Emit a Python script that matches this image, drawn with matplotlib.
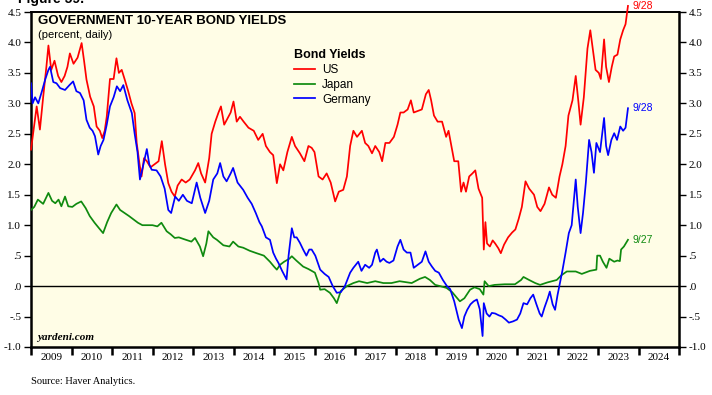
import numpy as np
import matplotlib
matplotlib.use("Agg")
import matplotlib.pyplot as plt

# US 10-year yield (decimal year, percent)
us_t = [2009.00, 2009.07, 2009.14, 2009.22, 2009.30, 2009.38, 2009.43, 2009.50, 2009.58, 2009.67,
        2009.75, 2009.83, 2009.90, 2009.96, 2010.05, 2010.15, 2010.25, 2010.31, 2010.37, 2010.46,
        2010.55, 2010.62, 2010.70, 2010.76, 2010.82, 2010.87, 2010.95, 2011.04, 2011.11, 2011.17,
        2011.24, 2011.31, 2011.40, 2011.48, 2011.56, 2011.61, 2011.68, 2011.73, 2011.79, 2011.86,
        2011.95, 2012.05, 2012.15, 2012.23, 2012.31, 2012.39, 2012.47, 2012.55, 2012.62, 2012.72,
        2012.82, 2012.92, 2013.05, 2013.13, 2013.20, 2013.30, 2013.40, 2013.46, 2013.55, 2013.63,
        2013.69, 2013.77, 2013.85, 2013.93, 2014.00, 2014.08, 2014.16, 2014.25, 2014.37, 2014.50,
        2014.61, 2014.72, 2014.80, 2014.90, 2014.98, 2015.07, 2015.15, 2015.23, 2015.33, 2015.44,
        2015.52, 2015.64, 2015.75, 2015.85, 2015.93, 2016.00, 2016.10, 2016.20, 2016.30, 2016.40,
        2016.51, 2016.60, 2016.71, 2016.80, 2016.88, 2016.96, 2017.05, 2017.17, 2017.25, 2017.33,
        2017.42, 2017.50, 2017.60, 2017.67, 2017.75, 2017.85, 2017.96, 2018.05, 2018.12, 2018.20,
        2018.30, 2018.38, 2018.45, 2018.57, 2018.65, 2018.75, 2018.82, 2018.88, 2018.95, 2019.04,
        2019.15, 2019.25, 2019.31, 2019.38, 2019.45, 2019.55, 2019.62, 2019.68, 2019.74, 2019.82,
        2019.90, 2019.97, 2020.05, 2020.14, 2020.18, 2020.22, 2020.26, 2020.33, 2020.40, 2020.46,
        2020.54, 2020.60, 2020.68, 2020.78, 2020.88, 2020.96, 2021.04, 2021.12, 2021.21, 2021.30,
        2021.42, 2021.50, 2021.58, 2021.68, 2021.79, 2021.87, 2021.96, 2022.05, 2022.12, 2022.20,
        2022.27, 2022.37, 2022.45, 2022.52, 2022.57, 2022.65, 2022.74, 2022.81, 2022.87, 2022.94,
        2023.02, 2023.07, 2023.15, 2023.20, 2023.27, 2023.34, 2023.40, 2023.48, 2023.55, 2023.62,
        2023.68, 2023.74]
us_v = [2.24, 2.60, 2.95, 2.57, 3.10, 3.60, 3.95, 3.55, 3.70, 3.45,
        3.35, 3.45, 3.60, 3.82, 3.65, 3.75, 3.99, 3.70, 3.39, 3.11,
        2.95, 2.62, 2.55, 2.43, 2.55, 2.78, 3.40, 3.40, 3.74, 3.50,
        3.55, 3.40, 3.20, 3.00, 2.84, 2.35, 2.00, 1.80, 2.10, 2.05,
        1.95, 2.00, 2.05, 2.38, 2.00, 1.69, 1.55, 1.47, 1.65, 1.75,
        1.70, 1.75, 1.90, 2.02, 1.85, 1.70, 2.10, 2.50, 2.70, 2.85,
        2.95, 2.65, 2.75, 2.85, 3.03, 2.70, 2.78, 2.70, 2.60, 2.55,
        2.40, 2.50, 2.30, 2.20, 2.15, 1.69, 2.00, 1.90, 2.20, 2.45,
        2.30, 2.18, 2.05, 2.30, 2.27, 2.20, 1.80, 1.75, 1.85, 1.70,
        1.39, 1.55, 1.58, 1.80, 2.30, 2.55, 2.45, 2.55, 2.35, 2.30,
        2.18, 2.30, 2.20, 2.05, 2.35, 2.35, 2.45, 2.65, 2.85, 2.85,
        2.90, 3.05, 2.85, 2.88, 2.90, 3.15, 3.22, 3.05, 2.80, 2.70,
        2.70, 2.45, 2.55, 2.30, 2.05, 2.05, 1.55, 1.70, 1.55, 1.80,
        1.85, 1.90, 1.60, 1.45, 0.60, 1.05, 0.70, 0.65, 0.75, 0.70,
        0.62, 0.54, 0.68, 0.80, 0.88, 0.93, 1.10, 1.30, 1.72, 1.60,
        1.50, 1.30, 1.23, 1.35, 1.62, 1.50, 1.45, 1.80, 2.00, 2.30,
        2.80, 3.05, 3.45, 3.00, 2.65, 3.10, 3.90, 4.20, 3.90, 3.55,
        3.50, 3.40, 4.05, 3.60, 3.35, 3.60, 3.77, 3.80, 4.05, 4.20,
        4.30, 4.60]

# Japan 10-year yield
jp_t = [2009.00, 2009.08, 2009.17, 2009.30, 2009.43, 2009.52, 2009.60, 2009.68, 2009.75, 2009.84,
        2009.92, 2010.02, 2010.12, 2010.24, 2010.35, 2010.45, 2010.57, 2010.68, 2010.78, 2010.88,
        2010.98, 2011.11, 2011.20, 2011.31, 2011.42, 2011.52, 2011.64, 2011.75, 2011.88, 2012.00,
        2012.12, 2012.22, 2012.35, 2012.45, 2012.55, 2012.65, 2012.78, 2012.96, 2013.05, 2013.17,
        2013.25, 2013.33, 2013.38, 2013.50, 2013.59, 2013.75, 2013.90, 2013.99, 2014.12, 2014.24,
        2014.40, 2014.57, 2014.75, 2014.90, 2015.00, 2015.07, 2015.15, 2015.25, 2015.38, 2015.44,
        2015.55, 2015.72, 2015.85, 2016.01, 2016.10, 2016.14, 2016.25, 2016.38, 2016.48, 2016.55,
        2016.65, 2016.80, 2016.96, 2017.10, 2017.30, 2017.50, 2017.70, 2017.90, 2018.10, 2018.40,
        2018.60, 2018.73, 2018.85, 2018.98, 2019.10, 2019.26, 2019.40, 2019.50, 2019.59, 2019.70,
        2019.84, 2019.95, 2020.08, 2020.17, 2020.20, 2020.30, 2020.45, 2020.70, 2020.95, 2021.10,
        2021.16, 2021.30, 2021.45, 2021.57, 2021.75, 2021.98, 2022.10, 2022.23, 2022.45, 2022.60,
        2022.80, 2022.96, 2022.98, 2023.05, 2023.12, 2023.21, 2023.28, 2023.40, 2023.48, 2023.54,
        2023.57, 2023.64, 2023.74]
jp_v = [1.25, 1.30, 1.42, 1.35, 1.53, 1.40, 1.36, 1.42, 1.31, 1.47,
        1.31, 1.30, 1.35, 1.39, 1.28, 1.15, 1.04, 0.95, 0.87, 1.05,
        1.20, 1.34, 1.25, 1.20, 1.15, 1.10, 1.04, 1.00, 1.00, 1.00,
        0.98, 1.04, 0.90, 0.85, 0.79, 0.80, 0.77, 0.73, 0.79, 0.65,
        0.49, 0.70, 0.90, 0.80, 0.76, 0.67, 0.65, 0.73, 0.65, 0.63,
        0.58, 0.54, 0.50, 0.40, 0.32, 0.27, 0.35, 0.40, 0.45, 0.49,
        0.42, 0.32, 0.28, 0.22, 0.05, -0.06, -0.05, -0.11, -0.20, -0.28,
        -0.08, 0.00, 0.05, 0.08, 0.05, 0.08, 0.05, 0.05, 0.08, 0.05,
        0.12, 0.15, 0.10, 0.02, 0.00, -0.03, -0.10, -0.18, -0.25, -0.20,
        -0.06, -0.02, -0.05, -0.14, 0.08, 0.00, 0.02, 0.03, 0.03, 0.10,
        0.15, 0.10, 0.05, 0.02, 0.06, 0.10, 0.18, 0.24, 0.24, 0.20,
        0.25, 0.27, 0.50, 0.50, 0.40, 0.30, 0.45, 0.40, 0.42, 0.41,
        0.60, 0.65, 0.76]

# Germany 10-year yield
de_t = [2009.00, 2009.04, 2009.10, 2009.18, 2009.27, 2009.35, 2009.43, 2009.47, 2009.55, 2009.63,
        2009.72, 2009.84, 2009.95, 2010.04, 2010.12, 2010.21, 2010.30, 2010.37, 2010.45, 2010.52,
        2010.58, 2010.66, 2010.72, 2010.79, 2010.87, 2010.95, 2011.04, 2011.12, 2011.20, 2011.28,
        2011.38, 2011.49, 2011.56, 2011.63, 2011.69, 2011.76, 2011.86, 2011.92, 2011.98, 2012.10,
        2012.20, 2012.30, 2012.39, 2012.46, 2012.56, 2012.65, 2012.75, 2012.85, 2012.97, 2013.09,
        2013.18, 2013.30, 2013.40, 2013.50, 2013.60, 2013.67, 2013.75, 2013.83, 2013.93, 2013.99,
        2014.10, 2014.24, 2014.35, 2014.45, 2014.55, 2014.64, 2014.70, 2014.80, 2014.90, 2014.98,
        2015.05, 2015.11, 2015.20, 2015.31, 2015.36, 2015.44, 2015.50, 2015.56, 2015.64, 2015.72,
        2015.80, 2015.87, 2015.93, 2016.02, 2016.14, 2016.25, 2016.35, 2016.45, 2016.55, 2016.65,
        2016.75, 2016.88, 2016.96, 2017.08, 2017.16, 2017.25, 2017.35, 2017.42, 2017.50, 2017.54,
        2017.62, 2017.70, 2017.78, 2017.85, 2017.95, 2018.05, 2018.12, 2018.20, 2018.28, 2018.37,
        2018.45, 2018.55, 2018.65, 2018.74, 2018.82, 2018.90, 2018.98, 2019.07, 2019.17, 2019.27,
        2019.35, 2019.45, 2019.56, 2019.64, 2019.70, 2019.77, 2019.85, 2019.93, 2020.01, 2020.08,
        2020.15, 2020.18, 2020.25, 2020.32, 2020.38, 2020.46, 2020.55, 2020.63, 2020.72, 2020.80,
        2020.90, 2021.00, 2021.08, 2021.16, 2021.25, 2021.33, 2021.40, 2021.48, 2021.56, 2021.61,
        2021.68, 2021.76, 2021.81, 2021.88, 2021.94, 2022.00, 2022.06, 2022.12, 2022.20, 2022.28,
        2022.35, 2022.45, 2022.50, 2022.57, 2022.63, 2022.70, 2022.78, 2022.84, 2022.90, 2022.96,
        2023.05, 2023.15, 2023.20, 2023.25, 2023.33, 2023.40, 2023.47, 2023.55, 2023.62, 2023.68,
        2023.74]
de_v = [3.33, 3.00, 3.10, 3.00, 3.20, 3.39, 3.55, 3.60, 3.35, 3.33,
        3.25, 3.22, 3.30, 3.36, 3.20, 3.17, 3.05, 2.73, 2.60, 2.55,
        2.46, 2.16, 2.30, 2.40, 2.65, 2.95, 3.10, 3.28, 3.20, 3.30,
        3.05, 2.84, 2.50, 2.20, 1.75, 1.95, 2.25, 2.00, 1.91, 1.90,
        1.80, 1.60, 1.25, 1.20, 1.47, 1.40, 1.50, 1.40, 1.36, 1.70,
        1.45, 1.20, 1.40, 1.75, 1.85, 2.02, 1.80, 1.72, 1.85, 1.94,
        1.70, 1.58, 1.45, 1.35, 1.20, 1.05, 0.98, 0.80, 0.76, 0.55,
        0.45, 0.38, 0.25, 0.11, 0.50, 0.95, 0.80, 0.80, 0.71, 0.60,
        0.50, 0.60, 0.60, 0.50, 0.27, 0.20, 0.15, 0.00, -0.11, -0.10,
        0.00, 0.22, 0.30, 0.40, 0.25, 0.35, 0.30, 0.35, 0.55, 0.60,
        0.40, 0.45, 0.40, 0.38, 0.42, 0.65, 0.76, 0.60, 0.55, 0.55,
        0.30, 0.35, 0.40, 0.57, 0.40, 0.32, 0.25, 0.22, 0.10, 0.00,
        -0.05, -0.25, -0.55, -0.69, -0.50, -0.39, -0.30, -0.25, -0.22, -0.38,
        -0.82, -0.28, -0.45, -0.50, -0.44, -0.45, -0.48, -0.50, -0.55, -0.60,
        -0.58, -0.55, -0.45, -0.28, -0.30, -0.20, -0.14, -0.30, -0.45, -0.50,
        -0.35, -0.20, -0.09, -0.30, -0.39, -0.15, 0.05, 0.25, 0.55, 0.87,
        1.00, 1.75, 1.30, 0.87, 1.20, 1.70, 2.40, 2.20, 1.86, 2.35,
        2.20, 2.76, 2.30, 2.15, 2.40, 2.51, 2.40, 2.62, 2.55, 2.60,
        2.92]

years = list(range(2009, 2025))
y_ticks = [4.5, 4.0, 3.5, 3.0, 2.5, 2.0, 1.5, 1.0, 0.5, 0.0, -0.5, -1.0]
y_labels = ["4.5", "4.0", "3.5", "3.0", "2.5", "2.0", "1.5", "1.0", ".5", ".0", "-.5", "-1.0"]

RED = "#ff0000"
GREEN = "#0f8a0f"
BLUE = "#0000ff"
SANS = "Liberation Sans"
SERIF = "Liberation Serif"

fig = plt.figure(figsize=(7.12, 3.95), dpi=100)
ax = fig.add_axes([31 / 712, 48 / 395, 648 / 712, 335 / 395])
ax.set_facecolor("#fffde6")

ax.axhline(0, color="black", lw=1.0, zorder=1)
ax.plot(us_t, us_v, color=RED, lw=1.25, label="US", clip_on=False, zorder=3)
ax.plot(jp_t, jp_v, color=GREEN, lw=1.25, label="Japan", zorder=3)
ax.plot(de_t, de_v, color=BLUE, lw=1.25, label="Germany", zorder=3)

ax.set_xlim(2009, 2025)
ax.set_ylim(-1.0, 4.5)

# year boundaries as ticks, labels centred in each year
ax.set_xticks(years + [2025])
ax.set_xticklabels([])
ax.set_xticks([y + 0.5 for y in years], minor=True)
ax.set_xticklabels([str(y) for y in years], minor=True, fontfamily=SERIF, fontsize=8)
ax.tick_params(axis="x", which="major", direction="out", length=6, width=1.8)
ax.tick_params(axis="x", which="minor", length=0, pad=4)

ax.set_yticks(y_ticks)
ax.set_yticklabels(y_labels, fontfamily=SERIF, fontsize=8)
ax.tick_params(axis="y", direction="out", length=5, width=1.0, pad=2,
               left=True, right=True, labelleft=True, labelright=True)

for side in ["left", "right", "bottom"]:
    ax.spines[side].set_linewidth(1.8)
ax.spines["top"].set_linewidth(1.4)

ax.text(0.011, 0.99, "GOVERNMENT 10-YEAR BOND YIELDS", transform=ax.transAxes,
        fontfamily=SANS, fontweight="bold", fontsize=9.5, va="top", ha="left")
ax.text(0.011, 0.945, "(percent, daily)", transform=ax.transAxes,
        fontfamily=SANS, fontsize=8, va="top", ha="left")
ax.text(0.009, 0.015, "yardeni.com", transform=ax.transAxes,
        fontfamily=SERIF, fontweight="bold", fontstyle="italic", fontsize=8,
        va="bottom", ha="left")

leg = ax.legend(title="Bond Yields", loc="upper left", bbox_to_anchor=(0.393, 0.915),
                frameon=False, handlelength=1.8, handletextpad=0.6,
                labelspacing=0.25, borderpad=0.2, alignment="left",
                prop={"family": SANS, "size": 8.5},
                title_fontproperties={"family": SANS, "weight": "bold", "size": 9})

# end-date labels
ax.annotate("9/28", (us_t[-1], us_v[-1]), xytext=(3, 0), textcoords="offset points",
            color=RED, fontfamily=SANS, fontsize=7.5, va="center", annotation_clip=False)
ax.annotate("9/28", (de_t[-1], de_v[-1]), xytext=(3, 0), textcoords="offset points",
            color=BLUE, fontfamily=SANS, fontsize=7.5, va="center")
ax.annotate("9/27", (jp_t[-1], jp_v[-1]), xytext=(3, 0), textcoords="offset points",
            color=GREEN, fontfamily=SANS, fontsize=7.5, va="center")

fig.text(18 / 712, 1 + 1 / 395, "Figure 59.", fontfamily=SANS, fontweight="bold",
         fontsize=10, va="center", ha="left")
fig.text(31 / 712, 1 - 382 / 395, "Source: Haver Analytics.", fontfamily=SERIF,
         fontsize=7.5, va="center", ha="left")

fig.savefig("out.png", dpi=100)
